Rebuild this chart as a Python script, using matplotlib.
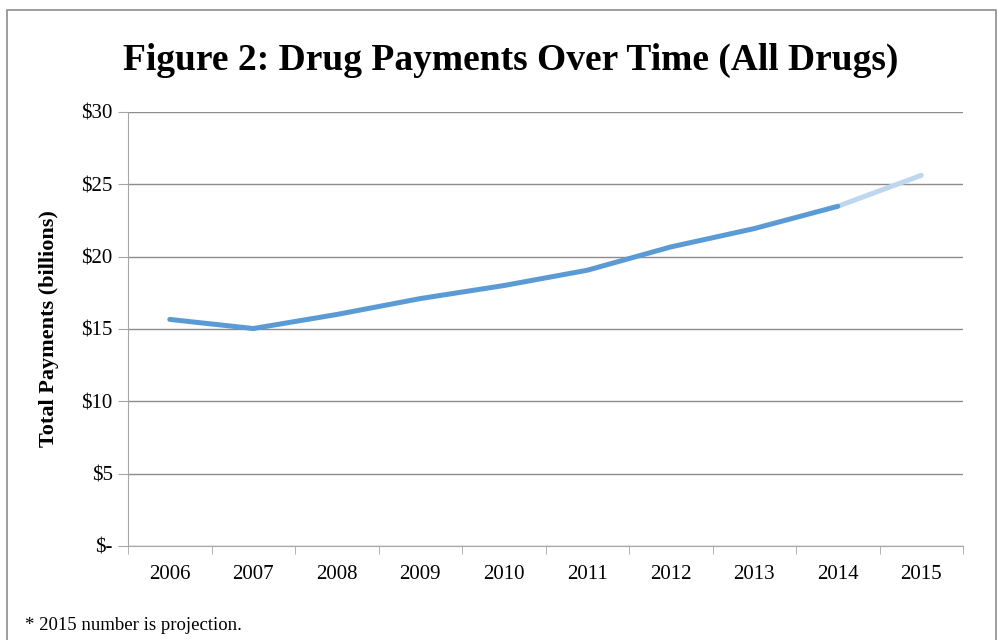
import matplotlib
matplotlib.use("Agg")
import matplotlib.pyplot as plt
from matplotlib.patches import Rectangle

years = ["2006", "2007", "2008", "2009", "2010", "2011", "2012", "2013", "2014", "2015"]
payments = [15.66, 15.03, 16.0, 17.1, 18.0, 19.06, 20.67, 21.94, 23.48, 25.62]
n_actual = 9  # last point (2015) is a projection
yticks = [0, 5, 10, 15, 20, 25, 30]
ytick_labels = ["$-", "$5", "$10", "$15", "$20", "$25", "$30"]

plt.rcParams['font.family'] = ['Liberation Serif', 'DejaVu Serif']

fig = plt.figure(figsize=(10, 6.4), dpi=100)
ax = fig.add_axes([0.128, 0.147, 0.835, 0.678])

xs = list(range(len(years)))
ax.plot(xs[:n_actual], payments[:n_actual], color="#5B9BD5", lw=3.6,
        solid_capstyle="round", solid_joinstyle="round", zorder=3)
ax.plot(xs[n_actual - 1:], payments[n_actual - 1:], color="#BDD7EE", lw=3.6,
        solid_capstyle="round", zorder=2)

ax.set_xlim(-0.5, len(years) - 0.5)
ax.set_ylim(0, 30)
ax.set_yticks(yticks)
ax.set_yticklabels(ytick_labels, fontsize=15)
ax.set_xticks(xs)
ax.set_xticklabels(years, fontsize=15)
ax.tick_params(axis="x", length=0, pad=14)
ax.set_xticks([x - 0.5 for x in range(len(years) + 1)], minor=True)
ax.tick_params(axis="x", which="minor", length=6, color="#A6A6A6")
ax.tick_params(axis="y", length=7, color="#A6A6A6", pad=4)

ax.grid(axis="y", color="#8C8C8C", lw=1.0)
ax.set_axisbelow(True)
for s in ["top", "right"]:
    ax.spines[s].set_visible(False)
ax.spines["left"].set_color("#A6A6A6")
ax.spines["bottom"].set_color("#A6A6A6")

ax.set_ylabel("Total Payments (billions)", fontsize=16, fontweight="bold", labelpad=16)

fig.text(0.511, 0.905, "Figure 2: Drug Payments Over Time (All Drugs)",
         ha="center", va="center", fontsize=27, fontweight="bold")
fig.text(0.025, 0.022, "* 2015 number is projection.", ha="left", va="center", fontsize=13.5)

# outer frame
fig.patches.append(Rectangle((0.007, -0.05), 0.989, 1.034, transform=fig.transFigure,
                             fill=False, edgecolor="#8C8C8C", lw=1.2))

fig.savefig("out.png", dpi=100)
